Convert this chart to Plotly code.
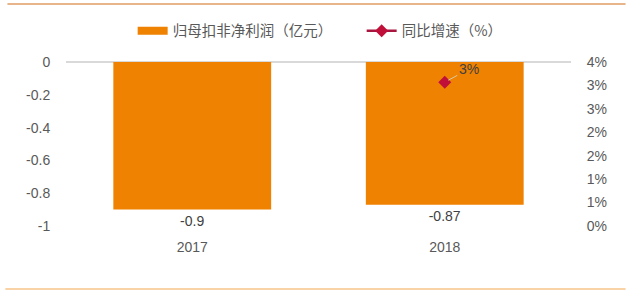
import plotly.graph_objects as go

categories = ["2017", "2018"]
profit = [-0.9, -0.87]
profit_labels = ["-0.9", "-0.87"]
growth_x = ["2018"]
growth = [0.0307]
growth_labels = ["3%"]
left_ticks = [0, -0.2, -0.4, -0.6, -0.8, -1]
left_tick_labels = ["0", "-0.2", "-0.4", "-0.6", "-0.8", "-1"]
right_ticks = [0, 0.005, 0.01, 0.015, 0.02, 0.025, 0.03, 0.035]
right_tick_labels = ["0%", "1%", "1%", "2%", "2%", "3%", "3%", "4%"]

font_family = "Liberation Sans, Arial, Noto Sans CJK SC, sans-serif"
grey = "#595959"
bar_color = "#EF8200"

fig = go.Figure()
fig.add_trace(go.Bar(
    x=categories, y=profit, name="归母扣非净利润（亿元）",
    marker=dict(color=bar_color, line=dict(width=0)),
    width=[0.625] * len(categories),
    text=profit_labels, textposition="outside", cliponaxis=False,
    textfont=dict(size=14, color="#404040", family=font_family),
    xaxis="x", yaxis="y", showlegend=False, legendgroup="bar",
))
# legend stand-in for the bar series (wide flat swatch like the reference)
fig.add_trace(go.Scatter(
    x=[None], y=[None], name="归母扣非净利润（亿元）",
    mode="lines", line=dict(color=bar_color, width=8),
    xaxis="x", yaxis="y", legendgroup="bar", legendwidth=184,
))
fig.add_trace(go.Scatter(
    x=growth_x, y=growth, name="同比增速（%）",
    mode="lines+markers",
    line=dict(color="#A8163F", width=2.5),
    marker=dict(symbol="diamond", size=10, color="#C0103A"),
    xaxis="x", yaxis="y2", cliponaxis=False,
))
fig.add_annotation(
    x=categories.index(growth_x[0]), y=growth[0], yref="y2", xref="x",
    text=growth_labels[0], showarrow=True, arrowhead=0,
    arrowwidth=1, arrowcolor="#D8C8A8", ax=24, ay=-13, standoff=4,
    font=dict(size=14, color="#404040", family=font_family),
)

fig.update_layout(
    width=634, height=294,
    margin=dict(l=65.5, r=62.5, t=62, b=68),
    paper_bgcolor="white", plot_bgcolor="white",
    font=dict(family=font_family, color=grey, size=14),
    showlegend=True,
    legend=dict(
        orientation="h", x=0.132, xanchor="left", y=1.19, yanchor="middle",
        font=dict(size=14.5, color=grey, family="Noto Sans CJK SC, sans-serif"),
        itemclick=False, bgcolor="rgba(0,0,0,0)",
    ),
    xaxis=dict(
        type="category", categoryorder="array", categoryarray=categories,
        range=[-0.5, len(categories) - 0.5],
        showgrid=False, showline=False, zeroline=False,
        ticks="outside", ticklen=8, tickcolor="rgba(0,0,0,0)",
        tickfont=dict(size=14, color=grey),
    ),
    yaxis=dict(
        range=[-1, 0], tickvals=left_ticks, ticktext=left_tick_labels,
        showgrid=False, zeroline=True, zerolinecolor="#D9D9D9", zerolinewidth=1.5,
        showline=False, ticks="outside", ticklen=12, tickcolor="rgba(0,0,0,0)",
        tickfont=dict(size=14, color=grey),
    ),
    yaxis2=dict(
        range=[0, 0.035], tickvals=right_ticks, ticktext=right_tick_labels,
        overlaying="y", side="right", showgrid=False, zeroline=False,
        showline=False, ticks="outside", ticklen=12, tickcolor="rgba(0,0,0,0)",
        tickfont=dict(size=14, color=grey),
    ),
    shapes=[
        dict(type="line", xref="paper", yref="paper",
             x0=-0.116, x1=1.108, y0=1.353, y1=1.353,
             line=dict(color="#E8B58A", width=2)),
        dict(type="line", xref="paper", yref="paper",
             x0=-0.12, x1=1.108, y0=-0.384, y1=-0.384,
             line=dict(color="#F9D2A6", width=2)),
    ],
)

fig.write_html("out.html")
